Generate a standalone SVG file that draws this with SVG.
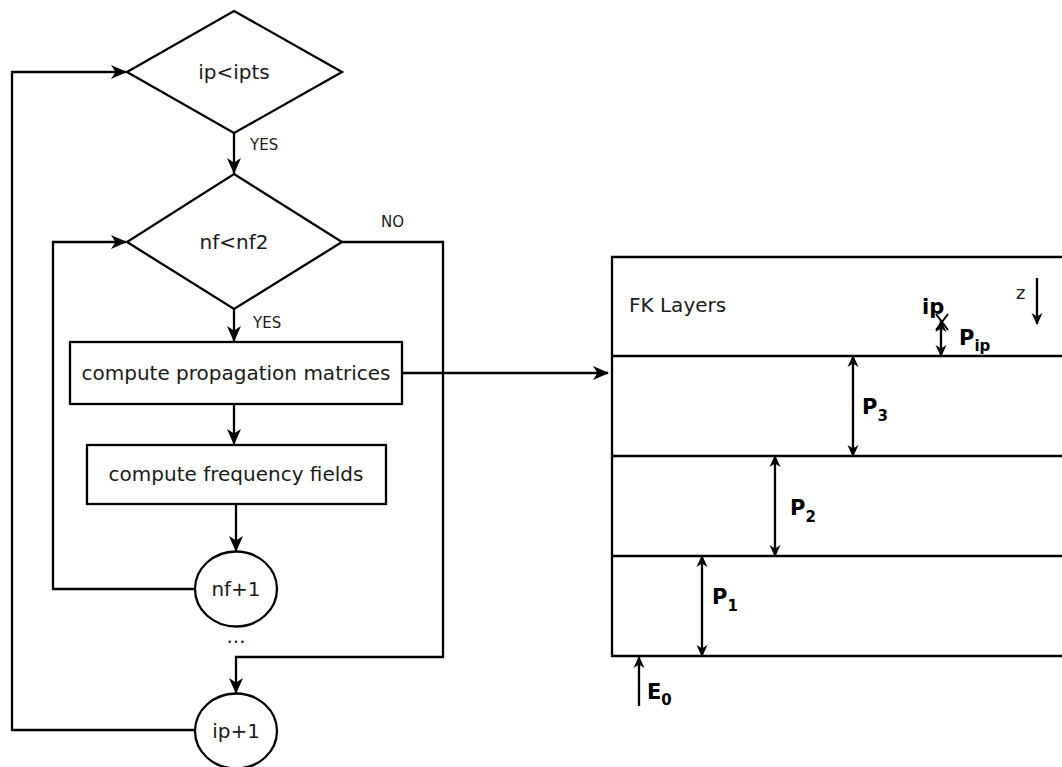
<svg xmlns="http://www.w3.org/2000/svg" width="1062" height="767" viewBox="0 0 1062 767">
<defs>
<style>
.s{fill:none;stroke:#000;stroke-width:2.3}
.n{fill:#fff;stroke:#000;stroke-width:2.3}
.t{font-family:"DejaVu Sans","Liberation Sans",sans-serif;font-size:20px;fill:#1a1a1a;text-anchor:middle}
.l{font-family:"DejaVu Sans","Liberation Sans",sans-serif;font-size:15px;fill:#1a1a1a}
.b{font-family:"DejaVu Sans","Liberation Sans",sans-serif;font-size:21px;font-weight:bold;fill:#000}
.sub{font-size:15px}
.a{marker-end:url(#ah)}
.d{marker-end:url(#sh);marker-start:url(#sh)}
.u{marker-end:url(#sh)}
</style>
<marker id="ah" markerUnits="userSpaceOnUse" markerWidth="16" markerHeight="16" viewBox="0 0 16 16" refX="15" refY="8" orient="auto">
<path d="M0,1 L16,8 L0,15 L4.5,8 z" fill="#000"/>
</marker>
<marker id="sh" markerUnits="userSpaceOnUse" markerWidth="12" markerHeight="12" viewBox="0 0 12 12" refX="11" refY="6" orient="auto-start-reverse">
<path d="M0,0.5 L12,6 L0,11.5 L3.5,6 z" fill="#000"/>
</marker>
</defs>
<rect width="1062" height="767" fill="#fff"/>

<g id="connectors">
<path class="s a" d="M195,730 H12 V72 H126"/>
<path class="s a" d="M234,133 V173"/>
<path class="s a" d="M342,242 H443 V657 H236 V693"/>
<path class="s a" d="M234,309 V341"/>
<path class="s a" d="M234,404 V444"/>
<path class="s a" d="M236,504 V551"/>
<path class="s a" d="M195,589 H53 V242 H126"/>
<path class="s a" d="M402,373 H608"/>
</g>
<g id="labels">
<text class="l" x="250" y="150">YES</text>
<text class="l" x="253" y="328">YES</text>
<text class="l" x="381" y="227">NO</text>
</g>

<g id="n-ipipts">
<polygon class="n" points="234,11 342,72 234,133 127,72"/>
<text class="t" x="234" y="79">ip&lt;ipts</text>
</g>
<g id="n-nfnf2">
<polygon class="n" points="234,174 342,242 234,309 127,242"/>
<text class="t" x="234" y="249">nf&lt;nf2</text>
</g>
<g id="n-propagation">
<rect class="n" x="70" y="342" width="332" height="62"/>
<text class="t" x="236" y="380">compute propagation matrices</text>
</g>
<g id="n-frequency">
<rect class="n" x="87" y="445" width="299" height="59"/>
<text class="t" x="236" y="481">compute frequency fields</text>
</g>
<g id="n-nf1">
<ellipse class="n" cx="236" cy="589" rx="41" ry="37.5"/>
<text class="t" x="236" y="596">nf+1</text>
</g>
<text class="t" x="236" y="643">...</text>
<g id="n-ip1">
<ellipse class="n" cx="236" cy="731" rx="41" ry="37.5"/>
<text class="t" x="236" y="738">ip+1</text>
</g>

<g id="layers">
<path class="s" d="M1064,257 H612 V656 H1064"/>
<path class="s" d="M612,356 H1064 M612,456 H1064 M612,556 H1064"/>
<text class="t" x="629" y="312" style="text-anchor:start">FK Layers</text>
<text class="l" x="1016" y="299" style="font-size:18px">z</text>
<path class="s u" d="M1037,278 V324"/>
<text class="b" x="922" y="314">ip</text>
<path class="s" d="M936,314 L948,330 M948,314 L936,330" style="stroke-width:2"/>
<path class="s d" d="M941,321 V356"/>
<text class="b" x="959" y="345">P<tspan class="sub" dy="6">ip</tspan></text>
<path class="s d" d="M853,356 V456"/>
<text class="b" x="862" y="414">P<tspan class="sub" dy="7">3</tspan></text>
<path class="s d" d="M775,456 V556"/>
<text class="b" x="790" y="515">P<tspan class="sub" dy="7">2</tspan></text>
<path class="s d" d="M702,556 V656"/>
<text class="b" x="712" y="604">P<tspan class="sub" dy="7">1</tspan></text>
<path class="s u" d="M639,706 V657"/>
<text class="b" x="647" y="699">E<tspan class="sub" dy="6">0</tspan></text>
</g>
</svg>
